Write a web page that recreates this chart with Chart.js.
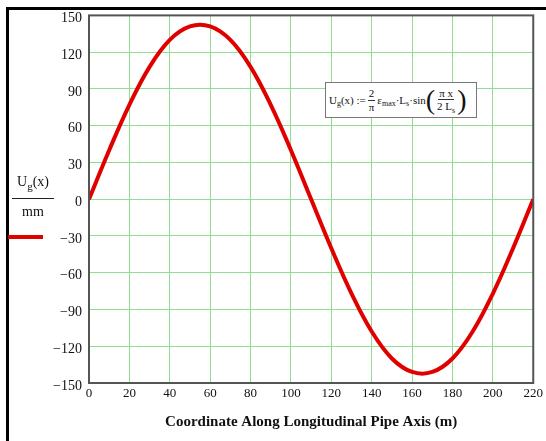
<!DOCTYPE html>
<html>
<head>
<meta charset="utf-8">
<script src="https://cdn.jsdelivr.net/npm/chart.js@4/dist/chart.umd.min.js"></script>
<style>
  html, body { margin: 0; padding: 0; background: #fff; }
  #wrap { position: relative; width: 546px; height: 441px; overflow: hidden; }
  #frame { position: absolute; left: 6px; top: 7px; width: 560px; height: 460px;
           border-left: 3px solid #000; border-top: 3px solid #000; pointer-events: none; }
  canvas { position: absolute; left: 0; top: 0; }
  .serif { font-family: "Liberation Serif", "DejaVu Serif", serif; color: #111; }
  #ylab { position: absolute; left: 12px; top: 174px; width: 42px; text-align: center; font-size: 14px; }
  #ylab .num { padding-bottom: 8px; border-bottom: 1.5px solid #222; }
  #ylab .den { padding-top: 5px; }
  #legline { position: absolute; left: 8px; top: 235px; width: 35px; height: 4px; background: #e00000; }
  #formula { position: absolute; left: 325px; top: 82px; width: 152px; height: 36px;
             border: 1px solid #777; background: #fff; font-size: 11px;
             display: flex; align-items: center; padding-left: 3px; box-sizing: border-box; white-space: nowrap; }
  .frac { display: inline-flex; flex-direction: column; align-items: center; vertical-align: middle; margin: 0 2px; line-height: 1.1; }
  .frac .t { border-bottom: 1px solid #333; padding: 0 1px; }
  .paren { font-size: 28px; font-weight: 100; line-height: 1; }
  .sb { font-size: 8px; position: relative; top: 3px; }
</style>
</head>
<body>
<div id="wrap">
  <canvas id="chart" width="546" height="441"></canvas>
  <div id="frame"></div>
  <div id="ylab" class="serif"><div class="num">U<span style="font-size:11px;position:relative;top:4px">g</span>(x)</div><div class="den">mm</div></div>
  <div id="legline"></div>
  <div id="formula" class="serif">U<span class="sb">g</span>(x) :=<span class="frac"><span class="t">2</span><span>π</span></span>ε<span class="sb">max</span>·L<span class="sb">s</span>·sin<span class="paren">(</span><span class="frac"><span class="t">π x</span><span>2 L<span class="sb">s</span></span></span><span class="paren">)</span></div>
</div>
<script>
  const xValues = [0, 10, 20, 30, 40, 50, 60, 70, 80, 90, 100, 110, 120, 130, 140, 150, 160, 170, 180, 190, 200, 210, 220];
  const ugValues = [0, 40, 77, 108, 130, 141, 141, 130, 108, 77, 40, 0, -40, -77, -108, -130, -141, -141, -130, -108, -77, -40, 0];
  const xTicks = [0, 20, 40, 60, 80, 100, 120, 140, 160, 180, 200, 220];
  const yTicks = [-150, -120, -90, -60, -30, 0, 30, 60, 90, 120, 150];

  const serif = "'Liberation Serif', 'DejaVu Serif', serif";

  // box around the whole plot area (top/right sides too)
  const plotBox = {
    id: "plotBox",
    afterDraw(chart) {
      const { ctx, chartArea: a } = chart;
      ctx.save();
      ctx.strokeStyle = "#555";
      ctx.lineWidth = 2;
      ctx.strokeRect(a.left, a.top, a.right - a.left, a.bottom - a.top);
      ctx.restore();
    }
  };

  new Chart(document.getElementById("chart"), {
    type: "line",
    data: {
      datasets: [{
        label: "Ug(x)",
        data: xValues.map((x, i) => ({ x: x, y: ugValues[i] })),
        borderColor: "#e00000",
        borderWidth: 4,
        pointRadius: 0,
        tension: 0.4,
        fill: false
      }]
    },
    options: {
      responsive: false,
      animation: false,
      layout: { padding: { left: 0, top: 15, right: 12, bottom: 0 } },
      plugins: { legend: { display: false }, tooltip: { enabled: false } },
      scales: {
        x: {
          type: "linear",
          min: 0, max: 220,
          afterBuildTicks: s => { s.ticks = xTicks.map(v => ({ value: v })); },
          afterFit: s => { s.height = 58; },
          grid: { color: "#8fdf8f", lineWidth: 1, drawTicks: false },
          border: { display: false },
          ticks: { color: "#111", font: { family: serif, size: 13 }, padding: 3, maxRotation: 0 },
          title: {
            display: true,
            text: "Coordinate Along Longitudinal Pipe Axis (m)",
            color: "#111",
            font: { family: serif, size: 15, weight: "bold" },
            padding: { top: 0, bottom: 10 }
          }
        },
        y: {
          min: -150, max: 150,
          afterBuildTicks: s => { s.ticks = yTicks.map(v => ({ value: v })); },
          afterFit: s => { s.width = 89; },
          grid: { color: "#8fdf8f", lineWidth: 1, drawTicks: false },
          border: { display: false },
          ticks: {
            color: "#111", font: { family: serif, size: 14 }, padding: 7, labelOffset: 3,
            callback: v => String(v).replace("-", "\u2212")
          }
        }
      }
    },
    plugins: [plotBox]
  });
</script>
</body>
</html>
